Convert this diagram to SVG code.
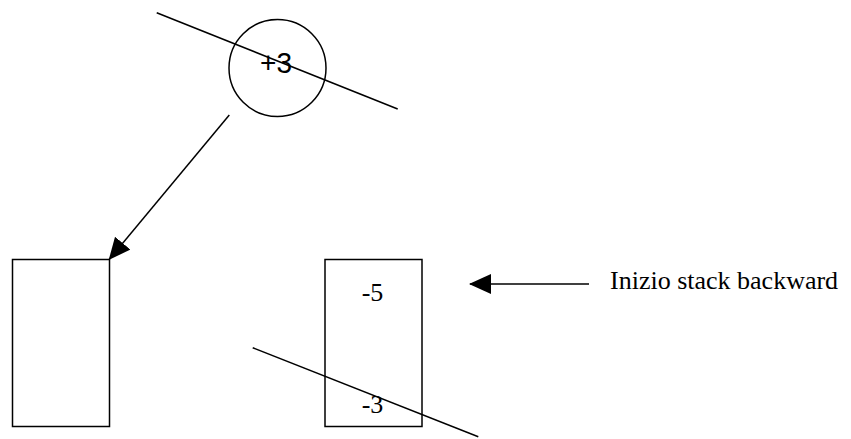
<svg xmlns="http://www.w3.org/2000/svg" width="851" height="439" viewBox="0 0 851 439">
<style>
.s{fill:none;stroke:#000;stroke-width:1.5}
.t{font-family:"Liberation Serif","Times New Roman",serif;font-size:26px;fill:#000}
.ts{font-family:"Liberation Sans",Arial,sans-serif;font-size:30px;fill:#000}
</style>
<defs>
<marker id="ah" markerWidth="22" markerHeight="20" refX="21" refY="10" orient="auto" markerUnits="userSpaceOnUse">
<path d="M0,0 L22,10 L0,20 Z" fill="#000"/>
</marker>
</defs>
<rect width="851" height="439" fill="#fff"/>
<g id="node-circle">
<circle class="s" cx="277.5" cy="68" r="48.5"/>
<text class="ts" x="276" y="73" text-anchor="middle" textLength="32" lengthAdjust="spacingAndGlyphs">+3</text>
</g>
<g id="node-left">
<rect class="s" x="12.5" y="259.5" width="97" height="167"/>
</g>
<g id="node-right">
<rect class="s" x="325" y="259.5" width="97" height="167"/>
<text class="t" x="372.5" y="301" text-anchor="middle">-5</text>
<text class="t" x="372.5" y="413" text-anchor="middle">-3</text>
</g>
<g id="label">
<text class="t" x="610" y="289">Inizio stack backward</text>
</g>
<g id="connectors">
<line class="s" x1="229.3" y1="115" x2="109.3" y2="259.3" marker-end="url(#ah)"/>
<line class="s" x1="589" y1="284" x2="470" y2="284" marker-end="url(#ah)"/>
<line class="s" x1="156.7" y1="12.7" x2="397.7" y2="109"/>
<line class="s" x1="252.7" y1="347.7" x2="478.3" y2="436.7"/>
</g>
</svg>
